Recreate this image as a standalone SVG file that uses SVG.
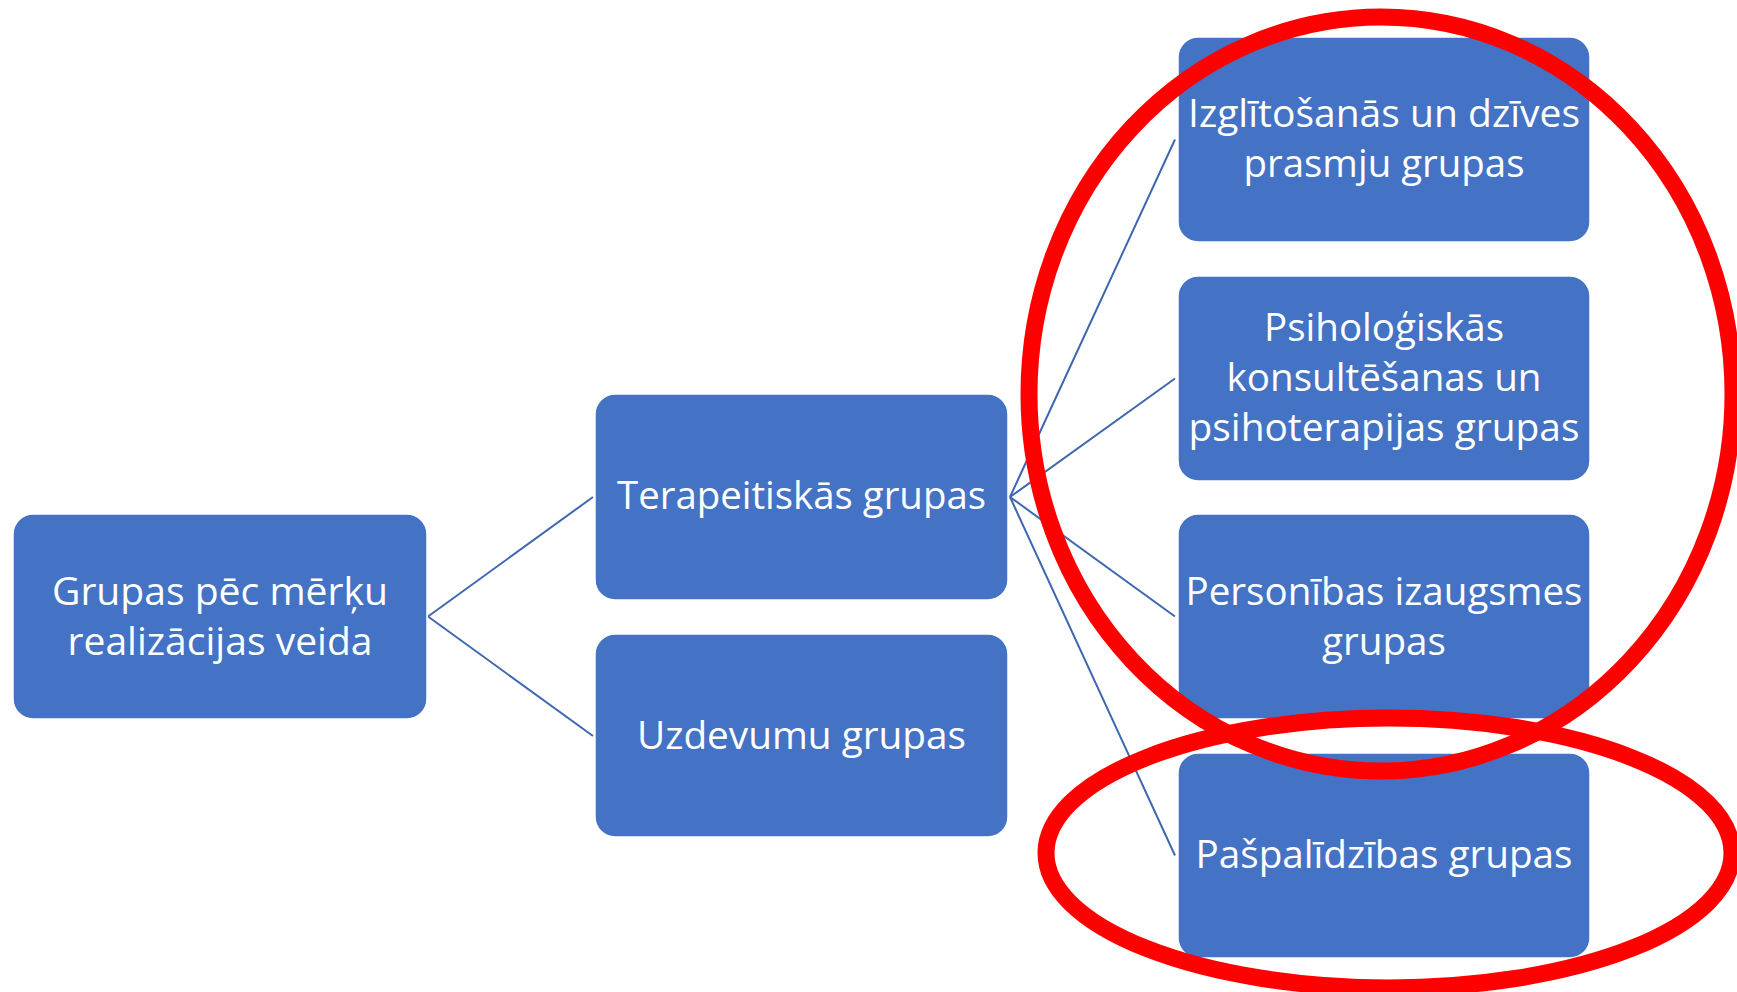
<svg xmlns="http://www.w3.org/2000/svg" width="1737" height="992" viewBox="0 0 1737 992">
  <style>
    .box { fill: #4472C4; stroke: #ffffff; stroke-width: 1.5; }
    .lbl { fill: #ffffff; font-family: "Open Sans", "Noto Sans", "Liberation Sans", sans-serif; font-size: 38px; text-anchor: middle; }
    .link { stroke: #3F67B0; stroke-width: 2; fill: none; }
    .mark { fill: none; stroke: #FF0000; stroke-width: 17; }
  </style>
  <rect width="1737" height="992" fill="#ffffff"/>

  <!-- connectors of the tree -->
  <g id="connectors">
    <line class="link" x1="428" y1="616.5" x2="593" y2="497"/>
    <line class="link" x1="428" y1="616.5" x2="593" y2="736"/>
    <line class="link" x1="1010" y1="497" x2="1175" y2="139.5"/>
    <line class="link" x1="1010" y1="497" x2="1175" y2="378.5"/>
    <line class="link" x1="1010" y1="497" x2="1175" y2="616.5"/>
    <line class="link" x1="1010" y1="497" x2="1175" y2="855.5"/>
  </g>

  <g id="root">
    <rect class="box" x="13" y="514" width="414" height="205" rx="20"/>
    <text class="lbl" x="220" y="605" textLength="336" lengthAdjust="spacingAndGlyphs">Grupas pēc mērķu</text>
    <text class="lbl" x="220" y="655" textLength="305" lengthAdjust="spacingAndGlyphs">realizācijas veida</text>
  </g>

  <g id="terapeitiskas">
    <rect class="box" x="595" y="394" width="413" height="206" rx="20"/>
    <text class="lbl" x="801.5" y="509" textLength="369" lengthAdjust="spacingAndGlyphs">Terapeitiskās grupas</text>
  </g>

  <g id="uzdevumu">
    <rect class="box" x="595" y="634" width="413" height="203" rx="20"/>
    <text class="lbl" x="801.5" y="749" textLength="329" lengthAdjust="spacingAndGlyphs">Uzdevumu grupas</text>
  </g>

  <g id="izglitosanas">
    <rect class="box" x="1178" y="37" width="412" height="205" rx="20"/>
    <text class="lbl" x="1384" y="127" textLength="392" lengthAdjust="spacingAndGlyphs">Izglītošanās un dzīves</text>
    <text class="lbl" x="1384" y="177" textLength="281" lengthAdjust="spacingAndGlyphs">prasmju grupas</text>
  </g>

  <g id="psihologiskas">
    <rect class="box" x="1178" y="276" width="412" height="205" rx="20"/>
    <text class="lbl" x="1384" y="341" textLength="240" lengthAdjust="spacingAndGlyphs">Psiholoģiskās</text>
    <text class="lbl" x="1384" y="391" textLength="315" lengthAdjust="spacingAndGlyphs">konsultēšanas un</text>
    <text class="lbl" x="1384" y="441" textLength="391" lengthAdjust="spacingAndGlyphs">psihoterapijas grupas</text>
  </g>

  <g id="personibas">
    <rect class="box" x="1178" y="514" width="412" height="205" rx="20"/>
    <text class="lbl" x="1384" y="605" textLength="397" lengthAdjust="spacingAndGlyphs">Personības izaugsmes</text>
    <text class="lbl" x="1384" y="655" textLength="124" lengthAdjust="spacingAndGlyphs">grupas</text>
  </g>

  <g id="paspalidzibas">
    <rect class="box" x="1178" y="753" width="412" height="205" rx="20"/>
    <text class="lbl" x="1384" y="868" textLength="377" lengthAdjust="spacingAndGlyphs">Pašpalīdzības grupas</text>
  </g>

  <!-- red highlight rings drawn over the tree -->
  <g id="highlights">
    <ellipse class="mark" cx="1381" cy="394" rx="352" ry="377"/>
    <ellipse class="mark" cx="1389" cy="853" rx="343" ry="135"/>
  </g>
</svg>
